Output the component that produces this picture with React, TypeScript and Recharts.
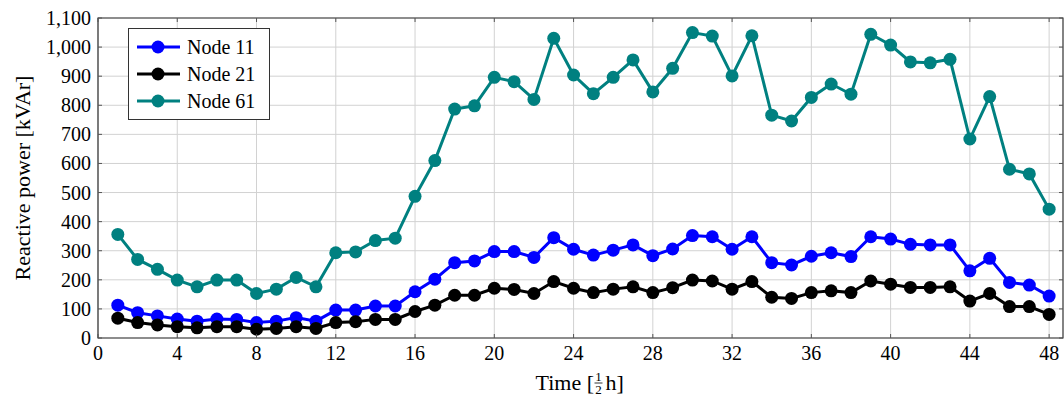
import {
  LineChart,
  Line,
  XAxis,
  YAxis,
  CartesianGrid,
  Legend,
  ReferenceArea,
  Label,
} from 'recharts'

const slots = [
  1, 2, 3, 4, 5, 6, 7, 8, 9, 10, 11, 12, 13, 14, 15, 16, 17, 18, 19, 20, 21, 22, 23, 24,
  25, 26, 27, 28, 29, 30, 31, 32, 33, 34, 35, 36, 37, 38, 39, 40, 41, 42, 43, 44, 45, 46, 47, 48,
]

const node11 = [
  113, 87, 76, 65, 58, 65, 64, 53, 58, 70, 58, 96, 96, 110, 110, 159, 202, 259, 265, 297, 297, 277, 345, 305,
  285, 302, 320, 283, 306, 352, 348, 305, 348, 259, 251, 281, 293, 280, 348, 340, 322, 320, 320, 231, 274, 191, 182, 144,
]

const node21 = [
  68, 53, 45, 39, 35, 39, 39, 30, 33, 39, 33, 53, 56, 64, 64, 91, 113, 147, 147, 171, 167, 153, 194, 171,
  156, 168, 176, 156, 173, 199, 196, 168, 194, 140, 136, 156, 162, 156, 196, 185, 174, 174, 176, 127, 153, 108, 108, 81,
]

const node61 = [
  356, 270, 236, 199, 176, 199, 199, 153, 168, 208, 176, 293, 296, 335, 343, 487, 610, 787, 798, 896, 881, 820, 1030, 904,
  840, 896, 956, 846, 927, 1050, 1038, 901, 1039, 766, 746, 827, 873, 838, 1044, 1007, 949, 946, 958, 684, 830, 580, 564, 443,
]

const xTicks = [0, 4, 8, 12, 16, 20, 24, 28, 32, 36, 40, 44, 48]
const yTicks = [0, 100, 200, 300, 400, 500, 600, 700, 800, 900, 1000, 1100]

const series = [
  { key: 'Node 11', color: '#0000ff' },
  { key: 'Node 21', color: '#000000' },
  { key: 'Node 61', color: '#008080' },
]

const data = slots.map((t, i) => ({
  t,
  'Node 11': node11[i],
  'Node 21': node21[i],
  'Node 61': node61[i],
}))

const serif = { fontFamily: 'Liberation Serif, DejaVu Serif, serif' }

// plot box size, used only to mirror the inward ticks on the top/right edges
const PLOT_W = 965
const PLOT_H = 320

function XTick({ x, y, payload }: any) {
  return (
    <g>
      <line x1={x} y1={y} x2={x} y2={y - 4} stroke="#555" />
      <line x1={x} y1={y - PLOT_H} x2={x} y2={y - PLOT_H + 4} stroke="#555" />
      <text x={x} y={y + 22} textAnchor="middle" fontSize={20} style={serif} fill="#000">
        {payload.value}
      </text>
    </g>
  )
}

function YTick({ x, y, payload }: any) {
  return (
    <g>
      <line x1={x} y1={y} x2={x + 4} y2={y} stroke="#555" />
      <line x1={x + PLOT_W} y1={y} x2={x + PLOT_W - 4} y2={y} stroke="#555" />
      <text x={x - 7} y={y + 7} textAnchor="end" fontSize={20} style={serif} fill="#000">
        {payload.value.toLocaleString('en-US')}
      </text>
    </g>
  )
}

function TimeLabel({ viewBox }: any) {
  const cx = viewBox.x + viewBox.width / 2
  const base = viewBox.y + 52
  return (
    <g style={serif} fill="#000">
      <text x={cx - 45} y={base} fontSize={22} style={serif}>Time [</text>
      <text x={cx + 18} y={base - 9} fontSize={13} textAnchor="middle" style={serif}>1</text>
      <line x1={cx + 14} y1={base - 7} x2={cx + 22} y2={base - 7} stroke="#000" strokeWidth={0.8} />
      <text x={cx + 18} y={base + 4} fontSize={13} textAnchor="middle" style={serif}>2</text>
      <text x={cx + 25} y={base} fontSize={22} style={serif}>h]</text>
    </g>
  )
}

function PowerLabel({ viewBox }: any) {
  const cx = viewBox.x + 22
  const cy = viewBox.y + viewBox.height / 2
  return (
    <text
      x={cx}
      y={cy}
      transform={`rotate(-90 ${cx} ${cy})`}
      textAnchor="middle"
      dominantBaseline="central"
      fontSize={22}
      style={serif}
      fill="#000"
    >
      Reactive power [kVAr]
    </text>
  )
}

function LegendBox() {
  return (
    <svg width={142} height={92} style={{ display: 'block' }}>
      <rect x={0.5} y={0.5} width={141} height={91} fill="#fff" stroke="#333" />
      {series.map((s, i) => {
        const cy = 19 + i * 27
        return (
          <g key={s.key}>
            <line x1={9} y1={cy} x2={52} y2={cy} stroke={s.color} strokeWidth={3} />
            <circle cx={30} cy={cy} r={6.5} fill={s.color} />
            <text x={59} y={cy + 7} fontSize={20} style={serif} fill="#000">
              {s.key}
            </text>
          </g>
        )
      })}
    </svg>
  )
}

export default function App() {
  return (
    <div style={{ position: 'absolute', left: 0, top: 0, background: '#fff' }}>
      <LineChart width={1064} height={398} data={data} margin={{ top: 18, right: 1, left: 0, bottom: 0 }}>
        <CartesianGrid stroke="#d2d2d2" strokeWidth={1} verticalValues={xTicks} horizontalValues={yTicks} />
        <XAxis
          dataKey="t"
          type="number"
          domain={[0, 48.7]}
          ticks={xTicks}
          allowDataOverflow
          height={60}
          tickSize={0}
          tickMargin={0}
          tickLine={false}
          axisLine={false}
          tick={<XTick />}
          interval={0}
        >
          <Label content={<TimeLabel />} />
        </XAxis>
        <YAxis
          type="number"
          domain={[0, 1100]}
          ticks={yTicks}
          width={98}
          tickSize={0}
          tickMargin={0}
          tickLine={false}
          axisLine={false}
          tick={<YTick />}
          interval={0}
        >
          <Label content={<PowerLabel />} />
        </YAxis>
        <ReferenceArea x1={0} x2={48.7} y1={0} y2={1100} fill="none" stroke="#333" strokeWidth={1.2} ifOverflow="visible" />
        {series.map((s) => (
          <Line
            key={s.key}
            type="linear"
            dataKey={s.key}
            stroke={s.color}
            strokeWidth={3}
            dot={{ r: 6.5, fill: s.color, stroke: s.color, strokeWidth: 0 }}
            activeDot={false}
            isAnimationActive={false}
          />
        ))}
        <Legend
          layout="vertical"
          align="center"
          verticalAlign="middle"
          wrapperStyle={{ position: 'absolute', left: 128, top: 28, width: 142, height: 92 }}
          content={<LegendBox />}
        />
      </LineChart>
    </div>
  )
}
